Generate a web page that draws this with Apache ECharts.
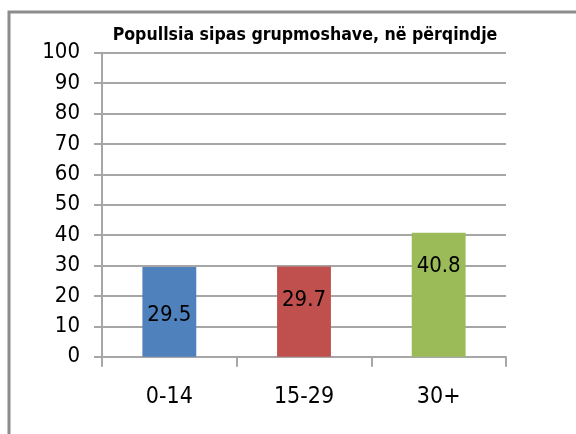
<!DOCTYPE html>
<html lang="sq">
<head>
	<meta charset="UTF-8">
	<title>Popullsia sipas grupmoshave</title>
	<style>
		html,body{margin:0;padding:0;background:#fff;overflow:hidden;}
		#main{width:576px;height:434px;}
	</style>
</head>
<body>
	<div id="main"></div>
	<script src="https://cdn.jsdelivr.net/npm/echarts@6/dist/echarts.min.js"></script>
	<script>
		var titleText = 'Popullsia sipas grupmoshave, në përqindje';
		var categories = ['0-14', '15-29', '30+'];
		var values = [29.5, 29.7, 40.8];
		var barColors = ['#4F81BD', '#C0504D', '#9BBB59'];

		var font = '"DejaVu Sans Condensed", "DejaVu Sans", sans-serif';
		// label centre, px below bar top (excel put the first one lower)
		var labelDrop = [48, 34, 34];

		var chart = echarts.init(document.getElementById('main'));
		var option = {
			animation: false,
			title: {
				text: titleText,
				left: 300,
				top: 21,
				textAlign: 'center',
				textStyle: {
					fontFamily: font,
					fontWeight: 'bold',
					fontSize: 17.6,
					color: '#000'
				}
			},
			graphic: [{
				type: 'rect',
				shape: {x: 9, y: 12, width: 620, height: 480},
				style: {fill: 'none', stroke: '#8C8C8C', lineWidth: 3},
				silent: true
			}],
			grid: {left: 102, right: 70, top: 52.7, bottom: 77.3},
			xAxis: {
				type: 'category',
				data: categories,
				axisLine: {lineStyle: {color: '#A6A6A6', width: 2}},
				axisTick: {show: true, length: 10, lineStyle: {color: '#A6A6A6', width: 2}},
				axisLabel: {margin: 29, fontFamily: font, fontSize: 23, color: '#000'}
			},
			yAxis: {
				type: 'value',
				min: 0,
				max: 100,
				interval: 10,
				axisLine: {show: true, lineStyle: {color: '#A6A6A6', width: 2}},
				axisTick: {show: true, length: 8, lineStyle: {color: '#A6A6A6', width: 2}},
				splitLine: {lineStyle: {color: '#A6A6A6', width: 2}},
				axisLabel: {margin: 22, fontFamily: font, fontSize: 22, color: '#000'}
			},
			series: [{
				type: 'bar',
				barWidth: '40%',
				data: values.map(function (v, i) {
					return {
						value: v,
						itemStyle: {color: barColors[i]},
						label: {position: ['50%', labelDrop[i]]}
					};
				}),
				label: {
					show: true,
					align: 'center',
					verticalAlign: 'middle',
					fontFamily: font,
					fontSize: 22,
					color: '#000'
				}
			}]
		};
		chart.setOption(option);
	</script>
</body>
</html>
